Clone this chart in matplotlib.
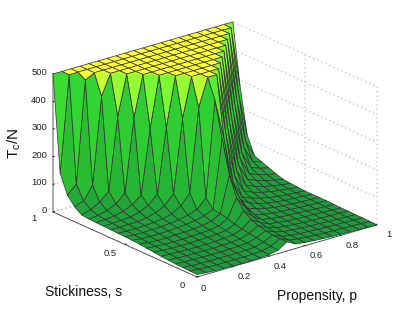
import matplotlib
matplotlib.use("Agg")
import numpy as np
import matplotlib.pyplot as plt
from matplotlib.colors import LinearSegmentedColormap, Normalize
from mpl_toolkits.mplot3d import proj3d
from mpl_toolkits.mplot3d.art3d import Poly3DCollection

propensity = np.arange(21) / 20
stickiness = np.arange(21) / 20

# one row per stickiness value
T_over_N = [
    [9, 6, 4, 3, 3, 2, 2, 3, 5, 12, 33, 16, 12, 9, 7, 5, 4, 3, 2, 1, 0],
    [10, 7, 5, 4, 4, 4, 4, 5, 7, 14, 33, 18, 13, 10, 8, 6, 5, 4, 3, 2, 1],
    [11, 8, 7, 6, 6, 6, 6, 7, 9, 18, 34, 20, 14, 11, 9, 7, 6, 5, 4, 3, 2],
    [12, 10, 9, 8, 8, 8, 9, 10, 12, 22, 38, 24, 16, 12, 10, 8, 7, 5, 4, 3, 2],
    [14, 12, 11, 10, 10, 10, 11, 12, 15, 26, 45, 28, 18, 14, 11, 9, 7, 6, 5, 4, 3],
    [16, 14, 13, 12, 12, 12, 13, 15, 18, 30, 55, 35, 20, 16, 12, 10, 8, 7, 5, 4, 3],
    [19, 16, 15, 14, 14, 15, 16, 18, 22, 36, 75, 45, 24, 18, 14, 12, 10, 8, 6, 5, 4],
    [22, 19, 17, 16, 17, 18, 19, 22, 26, 44, 110, 65, 30, 22, 17, 13, 11, 9, 7, 6, 5],
    [25, 21, 19, 19, 20, 21, 23, 26, 32, 50, 180, 95, 42, 30, 22, 16, 13, 10, 8, 7, 5],
    [27, 23, 22, 22, 23, 25, 28, 32, 40, 55, 300, 130, 60, 40, 28, 20, 15, 11, 9, 7, 5],
    [28, 25, 24, 25, 26, 29, 33, 40, 52, 85, 430, 280, 113, 50, 36, 26, 19, 14, 10, 8, 5],
    [29, 27, 27, 28, 30, 34, 42, 62, 100, 401, 500, 500, 280, 113, 50, 36, 26, 19, 14, 10, 7],
    [30, 29, 30, 31, 35, 44, 60, 95, 359, 500, 500, 500, 500, 280, 113, 50, 36, 26, 19, 13, 9],
    [31, 32, 33, 36, 44, 60, 90, 324, 500, 500, 500, 500, 500, 500, 280, 113, 50, 36, 26, 18, 12],
    [32, 34, 37, 44, 60, 85, 318, 500, 500, 500, 500, 500, 500, 500, 500, 280, 113, 50, 36, 27, 20],
    [33, 37, 45, 60, 90, 355, 500, 500, 500, 500, 500, 500, 500, 500, 500, 500, 280, 113, 50, 38, 30],
    [36, 46, 64, 95, 357, 500, 500, 500, 500, 500, 500, 500, 500, 500, 500, 500, 500, 280, 113, 50, 40],
    [54, 66, 114, 427, 500, 500, 500, 500, 500, 500, 500, 500, 500, 500, 500, 500, 500, 500, 280, 113, 50],
    [85, 116, 483, 500, 500, 500, 500, 500, 500, 500, 500, 500, 500, 500, 500, 500, 500, 500, 500, 280, 113],
    [152, 500, 500, 500, 500, 500, 500, 500, 500, 500, 500, 500, 500, 500, 500, 500, 500, 500, 500, 500, 280],
    [500, 500, 500, 500, 500, 500, 500, 500, 500, 500, 500, 500, 500, 500, 500, 500, 500, 500, 500, 500, 500],
]

p_ticks = [0, 0.2, 0.4, 0.6, 0.8, 1]
p_labels = ['0', '0.2', '0.4', '0.6', '0.8', '1']
s_ticks = [0, 0.5, 1]
s_labels = ['0', '0.5', '1']
z_ticks = [0, 100, 200, 300, 400, 500]

plt.rcParams['font.family'] = ['Liberation Sans', 'DejaVu Sans']
plt.rcParams['grid.linestyle'] = (0, (1, 3.5))
plt.rcParams['grid.color'] = '#989898'
plt.rcParams['grid.linewidth'] = 0.7
plt.rcParams['mathtext.fontset'] = 'custom'
plt.rcParams['mathtext.rm'] = 'Liberation Sans'

W, H = 415, 312
fig = plt.figure(figsize=(W / 100, H / 100), dpi=100)
ax = fig.add_axes([36.5 / W, -15.9 / H, 347.5 / W, 347.5 / H], projection='3d', proj_type='ortho')
ax.view_init(elev=21.2, azim=-128.7)
ax.set_box_aspect((1, 1, 0.642))
ax.computed_zorder = False

X, Y = np.meshgrid(propensity, stickiness)
Z = np.array(T_over_N, dtype=float)

cmap = LinearSegmentedColormap.from_list('surf', [
    (0.0, (30 / 255, 155 / 255, 60 / 255)),
    (0.4, (42 / 255, 190 / 255, 50 / 255)),
    (0.82, (50 / 255, 215 / 255, 50 / 255)),
    (0.88, (120 / 255, 250 / 255, 50 / 255)),
    (1.0, (255 / 255, 255 / 255, 50 / 255)),
])
norm = Normalize(0, 500)

cell_mean = (Z[:-1, :-1] + Z[1:, :-1] + Z[:-1, 1:] + Z[1:, 1:]) / 4
colors = cmap(norm(cell_mean))
surf = ax.plot_surface(X, Y, Z, rcount=21, ccount=21, facecolors=colors, shade=False, zorder=1)
surf.set_edgecolor('#303030')
surf.set_linewidth(0.5)

# lower half of the cells that touch the yellow top is lighter than the top
for j in range(2, 10):
    i = 20 - j
    tip = (propensity[j], stickiness[i], Z[i, j])
    left = (propensity[j], stickiness[i + 1], Z[i + 1, j])
    right = (propensity[j + 1], stickiness[i], Z[i, j + 1])
    tri = Poly3DCollection([[tip, left, right]], facecolors=[cmap(norm((tip[2] + 1000) / 3))],
                           edgecolors='none', zorder=2)
    ax.add_collection3d(tri)
    ax.plot(*zip(left, tip, right), color='#303030', lw=0.5, zorder=3)

ax.set_xlim(0, 1, view_margin=0)
ax.set_ylim(0, 1, view_margin=0)
ax.set_zlim(0, 500, view_margin=0)
ax.set_xticks(p_ticks, [''] * len(p_ticks))
ax.set_yticks(s_ticks, [''] * len(s_ticks))
ax.set_zticks(z_ticks, [''] * len(z_ticks))

for axis in (ax.xaxis, ax.yaxis, ax.zaxis):
    axis.pane.set_visible(False)
    axis.line.set_color('#404040')
    axis.line.set_linewidth(0.6)
    axis._axinfo['tick']['inward_factor'] = 0
    axis._axinfo['tick']['outward_factor'] = 0.12
    axis._axinfo['tick']['color'] = '#404040'
    axis._axinfo['tick']['linewidth'] = {True: 0.5, False: 0.5}
ax.zaxis.line.set_color('#a0a0a0')
ax.zaxis.line.set_linewidth(1.2)


def tick_text(x, y, z, label, ha='center'):
    # the default tick labels sit too low, so place them from the axes coordinates
    x2, y2, _ = proj3d.proj_transform(x, y, z, ax.get_proj())
    ax.text2D(x2, y2, label, transform=ax.transData, fontsize=6.8, color='#202020', ha=ha, va='center')


for p, lab in zip(p_ticks, p_labels):
    tick_text(p - 0.03 if p == 0 else p, -0.08, -17, lab)
for s, lab in zip(s_ticks, s_labels):
    tick_text(-0.08, s + 0.03 if s == 1 else s, -17, lab)
for z in z_ticks:
    tick_text(-0.033, 1, z + 12, str(z), ha='right')

fig.text(45 / W, 1 - 296 / H, 'Stickiness, s', fontsize=10, color='#101010')
fig.text(277 / W, 1 - 300 / H, 'Propensity, p', fontsize=10, color='#101010')
fig.text(14 / W, 1 - 143 / H, r'$\mathregular{T_c/N}$', fontsize=11, rotation=90,
         ha='center', va='center', color='#101010')

fig.savefig('out.png', dpi=100)
